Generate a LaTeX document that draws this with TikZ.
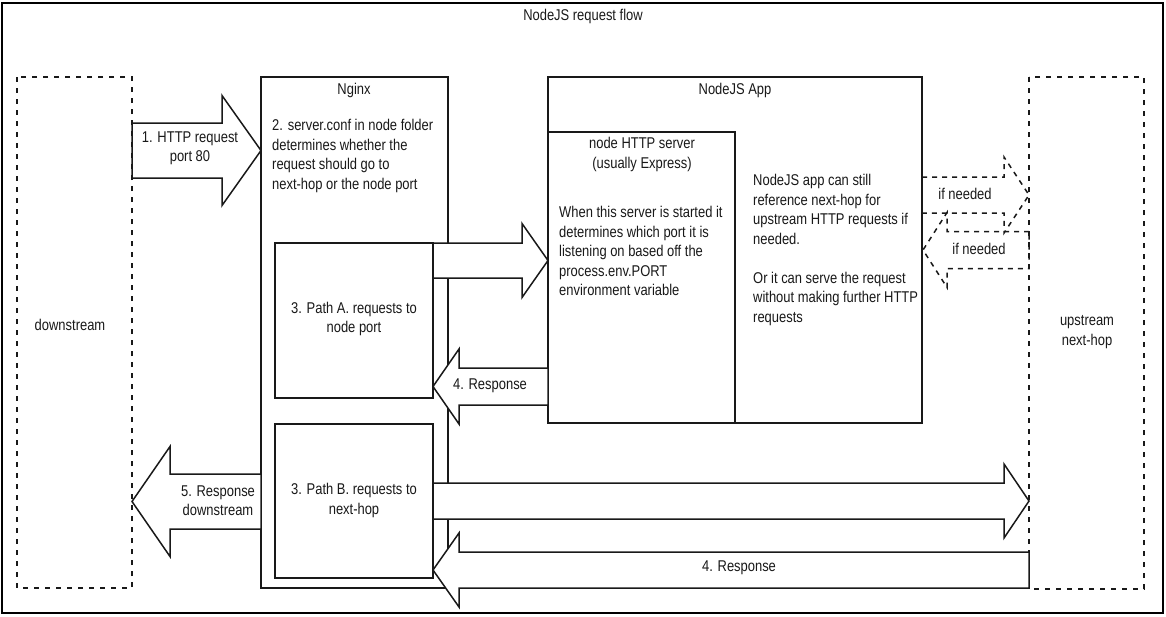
\documentclass[tikz,border=0pt]{standalone}
\usepackage{fontspec}
\setmainfont{Liberation Sans}[FakeStretch=0.83]
\begin{document}
\begin{tikzpicture}[x=1pt,y=-1pt,
  frame/.style={draw=black, line width=2pt},
  box/.style={draw=black!90, line width=1.5pt, fill=white},
  dbox/.style={draw=black!90, line width=1.5pt, dash pattern=on 5pt off 6pt},
  arr/.style={draw=black!90, line width=1.5pt, fill=white, line join=miter},
  darr/.style={draw=black!90, line width=1.5pt, dash pattern=on 5pt off 5pt},
  txt/.style={inner sep=0pt, font=\fontsize{15.6}{19.5}\selectfont, text=black!90, align=center},
  ltxt/.style={txt, align=left, anchor=west}]
\useasboundingbox (0,0) rectangle (1166,616);
\newcommand\barrow[7][arr]{%
  \draw[#1] (#2,{#5-#6}) -- (#3,{#5-#6}) -- (#3,{#5-#7}) -- (#4,#5)
    -- (#3,{#5+#7}) -- (#3,{#5+#6}) -- (#2,{#5+#6}) -- cycle;}
% frame
\draw[frame] (2,3) rectangle (1163,613);
\node[txt] (title) at (583,16.5) {NodeJS request flow};
% side boxes
\draw[dbox] (17,77) rectangle (132,588);
\draw[dbox] (1029,77) rectangle (1144,589);
\node[txt] (down) at (70,325) {downstream};
\node[txt] (up) at (1087,332) {upstream\\next-hop};
% Nginx
\draw[box] (261,77) rectangle (448,588);
\node[txt] (nginx) at (354,90) {Nginx};
\node[ltxt] (nginxtxt) at (272,156) {2. server.conf in node folder\\determines whether the\\request should go to\\next-hop or the node port};
\draw[box] (275,243) rectangle (433,398);
\node[txt] (patha) at (354,319) {3. Path A. requests to\\node port};
\draw[box] (275,424) rectangle (433,578);
\node[txt] (pathb) at (354,500.5) {3. Path B. requests to\\next-hop};
% NodeJS App
\draw[box] (548,77) rectangle (922,423);
\node[txt] (app) at (735,90) {NodeJS App};
\draw[box] (548,132) rectangle (735,423);
\node[txt] (srvhead) at (642,154.5) {node HTTP server\\(usually Express)};
\node[ltxt] (srvtxt) at (559,251) {When this server is started it\\determines which port it is\\listening on based off the\\process.env.PORT\\environment variable};
\node[ltxt] (apptxt) at (753,250) {NodeJS app can still\\reference next-hop for\\upstream HTTP requests if\\needed.\\[19.5pt]Or it can serve the request\\without making further HTTP\\requests};
% block arrows
\barrow{132}{222}{261}{150.5}{27.5}{55}
\node[txt] (a1) at (190,148) {1. HTTP request\\port 80};
\barrow{433}{522}{548}{260.5}{17.5}{37}
\barrow{548}{459}{433}{386.5}{18.5}{37.5}
\node[txt] (r1) at (490,386) {4. Response};
\barrow[darr]{922}{1004}{1029}{195}{18}{38}
\node[txt] (if1) at (965,194) {if needed};
\barrow[darr]{1029}{947}{923}{250}{18.5}{37.5}
\node[txt] (if2) at (979,249) {if needed};
\barrow{261}{170}{132}{501.5}{27.5}{55}
\node[txt] (r5) at (218,500.5) {5. Response\\downstream};
\barrow{433}{1004}{1029}{501}{18}{37}
\barrow{1029}{459}{433}{570}{18}{37}
\node[txt] (r4) at (739,568) {4. Response};
\end{tikzpicture}
\end{document}
